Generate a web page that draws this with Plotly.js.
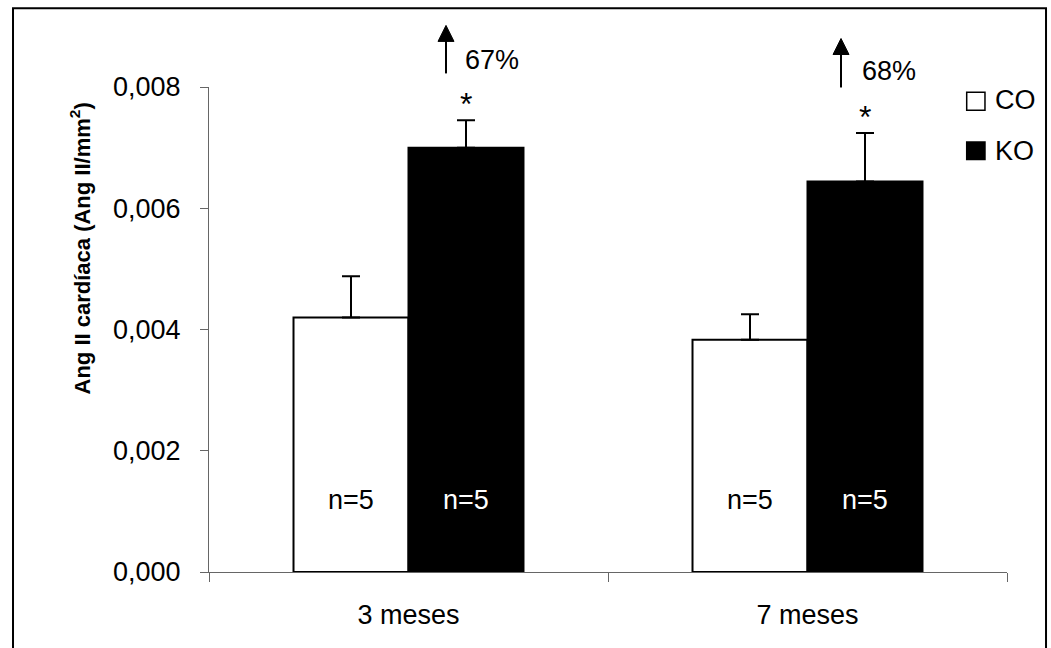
<!DOCTYPE html>
<html>
<head>
<meta charset="utf-8">
<script src="https://cdn.plot.ly/plotly-3.0.1.min.js"></script>
<style>
  html, body { margin: 0; padding: 0; background: #fff; }
  #chart { width: 1051px; height: 648px; }
</style>
</head>
<body>
<div id="chart"></div>
<script>
// Cardiac Ang II, control (CO) vs knockout (KO), at 3 and 7 months
const groups = ['3 meses', '7 meses'];
const coMean = [0.0042, 0.00383];
const coErr  = [0.00068, 0.00042];
const koMean = [0.0070, 0.00644];
const koErr  = [0.00045, 0.0008];
const nCO = [5, 5];
const nKO = [5, 5];

const FONT = 'Arial, "Liberation Sans", sans-serif';
const FS = 27;
const W = 1051, H = 648;
const M = { l: 209, r: 44, t: 87, b: 76 };
const plotW = W - M.l - M.r;
const plotH = H - M.t - M.b;
const bargap = 0.4236;
// half the width of one bar in pixels, used to centre labels over each bar
const barHalf = (plotW / groups.length) * (1 - bargap) / 4;

const traces = [
  {
    type: 'bar', name: 'CO', x: groups, y: coMean,
    marker: { color: '#ffffff', line: { color: '#000000', width: 2 } },
    error_y: { type: 'data', array: coErr, arrayminus: coErr.map(() => 0),
               symmetric: false, color: '#000000', thickness: 2, width: 9 },
    hoverinfo: 'skip'
  },
  {
    type: 'bar', name: 'KO', x: groups, y: koMean,
    marker: { color: '#000000', line: { color: '#000000', width: 2 } },
    error_y: { type: 'data', array: koErr, arrayminus: koErr.map(() => 0),
               symmetric: false, color: '#000000', thickness: 2, width: 9 },
    hoverinfo: 'skip'
  }
];

const annotations = [];
const shapes = [];

// sample size inside each bar
groups.forEach((g, i) => {
  annotations.push({ x: g, y: 0.00118, xref: 'x', yref: 'y', xshift: -barHalf,
    xanchor: 'center', yanchor: 'middle',
    text: 'n=' + nCO[i], showarrow: false, font: { family: FONT, size: FS, color: '#000' } });
  annotations.push({ x: g, y: 0.00118, xref: 'x', yref: 'y', xshift: barHalf,
    xanchor: 'center', yanchor: 'middle',
    text: 'n=' + nKO[i], showarrow: false, font: { family: FONT, size: FS, color: '#ffffff' } });
});

// significance star above each KO error bar
groups.forEach((g, i) => {
  annotations.push({ x: g, y: koMean[i] + koErr[i], xref: 'x', yref: 'y', xshift: barHalf,
    xanchor: 'center', yanchor: 'bottom', yshift: -4, text: '*', showarrow: false,
    font: { family: FONT, size: 32, color: '#000' } });
});

// upward arrows (shaft + filled head) with the KO increase over CO, above the plot area
const arrowX = [0.297, 0.792];
const arrowTip = [1.127, 1.100];
const arrowBase = [1.028, 0.999];
const pctX = [0.318, 0.816];
const pctY = [1.055, 1.034];
const headH = 16 / plotH, headHalfW = 8 / plotW;
groups.forEach((g, i) => {
  const pct = Math.round((koMean[i] / coMean[i] - 1) * 100);
  const x = arrowX[i], tip = arrowTip[i], neck = tip - headH;
  shapes.push({ type: 'line', xref: 'paper', yref: 'paper',
    x0: x, x1: x, y0: arrowBase[i], y1: neck + 0.002, line: { color: '#000', width: 2 } });
  shapes.push({ type: 'path', xref: 'paper', yref: 'paper',
    path: `M ${x - headHalfW} ${neck} L ${x + headHalfW} ${neck} L ${x} ${tip} Z`,
    fillcolor: '#000', line: { color: '#000', width: 1 } });
  annotations.push({ x: pctX[i], y: pctY[i], xref: 'paper', yref: 'paper',
    xanchor: 'left', yanchor: 'middle', text: pct + '%', showarrow: false,
    font: { family: FONT, size: FS, color: '#000' } });
});

// y-axis title
annotations.push({ x: -0.1617, y: 0.667, xref: 'paper', yref: 'paper', textangle: -90,
  xanchor: 'center', yanchor: 'middle',
  text: '<b>Ang II cardíaca (Ang II/mm<sup>2</sup>)</b>', showarrow: false,
  font: { family: FONT, size: 22, color: '#000' } });

// legend labels
annotations.push({ x: 0.9825, y: 0.9726, xref: 'paper', yref: 'paper', xanchor: 'left',
  yanchor: 'middle', text: 'CO', showarrow: false, font: { family: FONT, size: FS, color: '#000' } });
annotations.push({ x: 0.9825, y: 0.8674, xref: 'paper', yref: 'paper', xanchor: 'left',
  yanchor: 'middle', text: 'KO', showarrow: false, font: { family: FONT, size: FS, color: '#000' } });

// outer frame
shapes.push({ type: 'rect', xref: 'paper', yref: 'paper', x0: -0.2456, x1: 1.0489, y0: -0.3, y1: 1.1623,
  line: { color: '#000', width: 2 }, fillcolor: 'rgba(0,0,0,0)' });
// legend swatches
shapes.push({ type: 'rect', xref: 'paper', yref: 'paper', x0: 0.9495, x1: 0.9724, y0: 0.952, y1: 0.989,
  line: { color: '#000', width: 1.5 }, fillcolor: '#ffffff' });
shapes.push({ type: 'rect', xref: 'paper', yref: 'paper', x0: 0.9495, x1: 0.9724, y0: 0.8503, y1: 0.8866,
  line: { color: '#000', width: 1.5 }, fillcolor: '#000000' });

const layout = {
  width: W, height: H, margin: M,
  paper_bgcolor: '#ffffff', plot_bgcolor: '#ffffff',
  separators: ',.',
  barmode: 'group', bargap: bargap, bargroupgap: 0,
  showlegend: false,
  font: { family: FONT, size: FS, color: '#000' },
  xaxis: {
    type: 'category', range: [-0.5, 1.5], showline: true, linecolor: '#666', linewidth: 1,
    ticks: 'outside', tickson: 'boundaries', ticklen: 9, tickcolor: '#666', tickwidth: 1,
    showgrid: false, zeroline: false, fixedrange: true,
    tickfont: { family: FONT, size: FS, color: '#000' }, ticklabelstandoff: 19
  },
  yaxis: {
    range: [0, 0.008], tickvals: [0, 0.002, 0.004, 0.006, 0.008], tickformat: '.3f',
    showline: true, linecolor: '#666', linewidth: 1,
    ticks: 'outside', ticklen: 8, tickcolor: '#666', tickwidth: 1,
    showgrid: false, zeroline: false, fixedrange: true,
    tickfont: { family: FONT, size: FS, color: '#000' }, ticklabelstandoff: 14
  },
  annotations: annotations,
  shapes: shapes
};

Plotly.newPlot('chart', traces, layout, { displayModeBar: false, staticPlot: true });
</script>
</body>
</html>
